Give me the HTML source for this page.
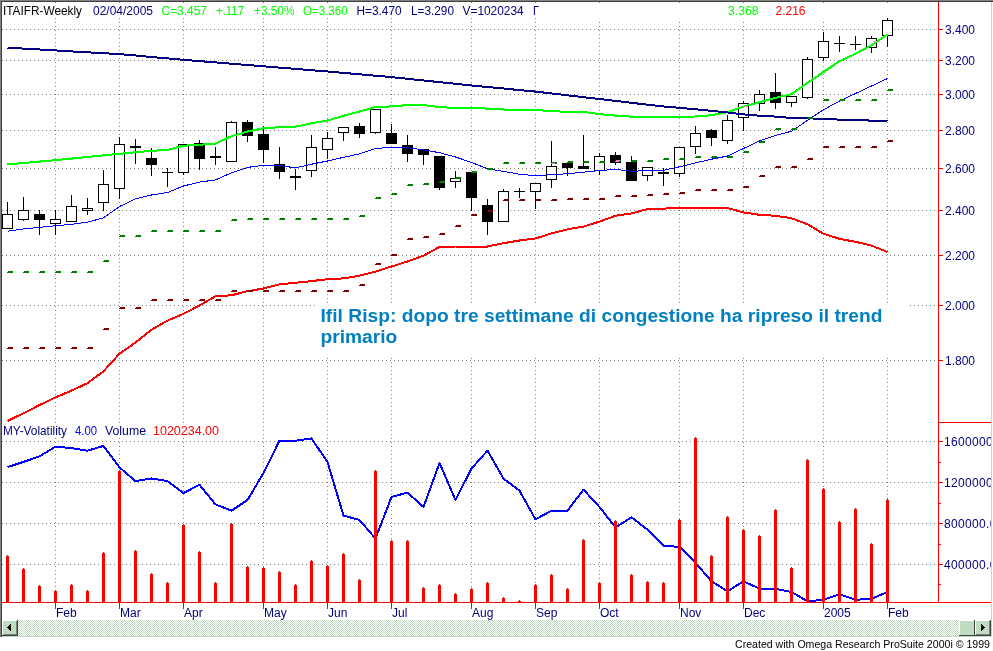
<!DOCTYPE html>
<html><head><meta charset="utf-8"><title>ITAIFR-Weekly</title>
<style>html,body{margin:0;padding:0;background:#fff;overflow:hidden}body{width:993px;height:651px;position:relative;font-family:"Liberation Sans",Arial,sans-serif}</style>
</head><body>
<svg width="993" height="651" viewBox="0 0 993 651" style="display:block;position:absolute;left:0;top:0">
<defs><pattern id="hatch" width="2" height="2" patternUnits="userSpaceOnUse"><rect width="2" height="2" fill="#ffffff"/><rect width="1" height="1" fill="#c0dcc0"/><rect x="1" y="1" width="1" height="1" fill="#c0dcc0"/></pattern>
<clipPath id="clipR"><rect x="0" y="0" width="991" height="651"/></clipPath></defs>
<rect width="993" height="651" fill="#fff"/>
<g stroke="#808080" stroke-width="1" stroke-dasharray="1 3" shape-rendering="crispEdges" fill="none">
<line x1="55.5" y1="2" x2="55.5" y2="603"/>
<line x1="119.5" y1="2" x2="119.5" y2="603"/>
<line x1="183.5" y1="2" x2="183.5" y2="603"/>
<line x1="263.5" y1="2" x2="263.5" y2="603"/>
<line x1="327.5" y1="2" x2="327.5" y2="603"/>
<line x1="391.5" y1="2" x2="391.5" y2="603"/>
<line x1="471.5" y1="2" x2="471.5" y2="603"/>
<line x1="535.5" y1="2" x2="535.5" y2="603"/>
<line x1="599.5" y1="2" x2="599.5" y2="603"/>
<line x1="679.5" y1="2" x2="679.5" y2="603"/>
<line x1="743.5" y1="2" x2="743.5" y2="603"/>
<line x1="823.5" y1="2" x2="823.5" y2="603"/>
<line x1="887.5" y1="2" x2="887.5" y2="603"/>
<line x1="2" y1="29.5" x2="938" y2="29.5"/>
<line x1="2" y1="60.5" x2="938" y2="60.5"/>
<line x1="2" y1="94.5" x2="938" y2="94.5"/>
<line x1="2" y1="130.5" x2="938" y2="130.5"/>
<line x1="2" y1="168.5" x2="938" y2="168.5"/>
<line x1="2" y1="210.5" x2="938" y2="210.5"/>
<line x1="2" y1="255.5" x2="938" y2="255.5"/>
<line x1="2" y1="305.5" x2="938" y2="305.5"/>
<line x1="2" y1="360.5" x2="938" y2="360.5"/>
<line x1="2" y1="441.5" x2="938" y2="441.5"/>
<line x1="2" y1="482.5" x2="938" y2="482.5"/>
<line x1="2" y1="523.5" x2="938" y2="523.5"/>
<line x1="2" y1="564.5" x2="938" y2="564.5"/>
</g>
<rect x="3" y="3" width="542" height="15" fill="#fff"/>
<rect x="545" y="3" width="392" height="18" fill="#fff"/>
<rect x="318" y="303" width="592" height="55" fill="#fff"/>
<rect x="3" y="424" width="220" height="14" fill="#fff"/>
<g shape-rendering="crispEdges" fill="#000">
<rect x="7" y="202" width="1" height="27"/>
<rect x="2" y="214" width="11" height="15"/><rect x="3" y="215" width="9" height="13" fill="#fff"/>
<rect x="23" y="197" width="1" height="24"/>
<rect x="18" y="210" width="11" height="10"/><rect x="19" y="211" width="9" height="8" fill="#fff"/>
<rect x="39" y="210" width="1" height="25"/>
<rect x="34" y="214" width="11" height="6"/>
<rect x="55" y="210" width="1" height="25"/>
<rect x="50" y="219" width="11" height="5"/><rect x="51" y="220" width="9" height="3" fill="#fff"/>
<rect x="71" y="195" width="1" height="27"/>
<rect x="66" y="206" width="11" height="16"/><rect x="67" y="207" width="9" height="14" fill="#fff"/>
<rect x="87" y="198" width="1" height="17"/>
<rect x="82" y="208" width="11" height="3"/><rect x="83" y="209" width="9" height="1" fill="#fff"/>
<rect x="103" y="170" width="1" height="41"/>
<rect x="98" y="184" width="11" height="19"/><rect x="99" y="185" width="9" height="17" fill="#fff"/>
<rect x="119" y="137" width="1" height="62"/>
<rect x="114" y="144" width="11" height="45"/><rect x="115" y="145" width="9" height="43" fill="#fff"/>
<rect x="135" y="139" width="1" height="25"/>
<rect x="130" y="146" width="11" height="2"/>
<rect x="151" y="148" width="1" height="28"/>
<rect x="146" y="158" width="11" height="7"/>
<rect x="167" y="168" width="1" height="19"/>
<rect x="162" y="172" width="11" height="1"/>
<rect x="183" y="144" width="1" height="31"/>
<rect x="178" y="144" width="11" height="29"/><rect x="179" y="145" width="9" height="27" fill="#fff"/>
<rect x="199" y="140" width="1" height="30"/>
<rect x="194" y="143" width="11" height="16"/>
<rect x="215" y="147" width="1" height="18"/>
<rect x="210" y="156" width="11" height="2"/>
<rect x="231" y="121" width="1" height="41"/>
<rect x="226" y="122" width="11" height="40"/><rect x="227" y="123" width="9" height="38" fill="#fff"/>
<rect x="247" y="120" width="1" height="22"/>
<rect x="242" y="122" width="11" height="14"/>
<rect x="263" y="126" width="1" height="37"/>
<rect x="258" y="134" width="11" height="16"/>
<rect x="279" y="147" width="1" height="32"/>
<rect x="274" y="164" width="11" height="8"/>
<rect x="295" y="169" width="1" height="21"/>
<rect x="290" y="176" width="11" height="2"/>
<rect x="311" y="135" width="1" height="42"/>
<rect x="306" y="147" width="11" height="24"/><rect x="307" y="148" width="9" height="22" fill="#fff"/>
<rect x="327" y="132" width="1" height="27"/>
<rect x="322" y="138" width="11" height="12"/><rect x="323" y="139" width="9" height="10" fill="#fff"/>
<rect x="343" y="127" width="1" height="14"/>
<rect x="338" y="127" width="11" height="6"/><rect x="339" y="128" width="9" height="4" fill="#fff"/>
<rect x="359" y="123" width="1" height="15"/>
<rect x="354" y="126" width="11" height="8"/>
<rect x="375" y="109" width="1" height="25"/>
<rect x="370" y="109" width="11" height="24"/><rect x="371" y="110" width="9" height="22" fill="#fff"/>
<rect x="391" y="124" width="1" height="20"/>
<rect x="386" y="133" width="11" height="11"/>
<rect x="407" y="135" width="1" height="27"/>
<rect x="402" y="145" width="11" height="9"/>
<rect x="423" y="149" width="1" height="16"/>
<rect x="418" y="149" width="11" height="6"/>
<rect x="439" y="156" width="1" height="34"/>
<rect x="434" y="156" width="11" height="32"/>
<rect x="455" y="171" width="1" height="17"/>
<rect x="450" y="178" width="11" height="4"/><rect x="451" y="179" width="9" height="2" fill="#fff"/>
<rect x="471" y="172" width="1" height="39"/>
<rect x="466" y="172" width="11" height="26"/>
<rect x="487" y="199" width="1" height="36"/>
<rect x="482" y="205" width="11" height="17"/>
<rect x="503" y="189" width="1" height="33"/>
<rect x="498" y="191" width="11" height="31"/><rect x="499" y="192" width="9" height="29" fill="#fff"/>
<rect x="519" y="188" width="1" height="10"/>
<rect x="514" y="191" width="11" height="1"/>
<rect x="535" y="183" width="1" height="26"/>
<rect x="530" y="183" width="11" height="9"/><rect x="531" y="184" width="9" height="7" fill="#fff"/>
<rect x="551" y="141" width="1" height="47"/>
<rect x="546" y="166" width="11" height="14"/><rect x="547" y="167" width="9" height="12" fill="#fff"/>
<rect x="567" y="163" width="1" height="13"/>
<rect x="562" y="163" width="11" height="5"/>
<rect x="583" y="135" width="1" height="34"/>
<rect x="578" y="166" width="11" height="3"/>
<rect x="599" y="153" width="1" height="22"/>
<rect x="594" y="156" width="11" height="15"/><rect x="595" y="157" width="9" height="13" fill="#fff"/>
<rect x="615" y="152" width="1" height="13"/>
<rect x="610" y="155" width="11" height="8"/>
<rect x="631" y="156" width="1" height="25"/>
<rect x="626" y="162" width="11" height="19"/>
<rect x="647" y="167" width="1" height="14"/>
<rect x="642" y="167" width="11" height="9"/><rect x="643" y="168" width="9" height="7" fill="#fff"/>
<rect x="663" y="168" width="1" height="18"/>
<rect x="658" y="172" width="11" height="2"/>
<rect x="679" y="147" width="1" height="30"/>
<rect x="674" y="147" width="11" height="27"/><rect x="675" y="148" width="9" height="25" fill="#fff"/>
<rect x="695" y="126" width="1" height="28"/>
<rect x="690" y="133" width="11" height="14"/><rect x="691" y="134" width="9" height="12" fill="#fff"/>
<rect x="711" y="129" width="1" height="17"/>
<rect x="706" y="130" width="11" height="8"/>
<rect x="727" y="115" width="1" height="29"/>
<rect x="722" y="120" width="11" height="21"/><rect x="723" y="121" width="9" height="19" fill="#fff"/>
<rect x="743" y="101" width="1" height="30"/>
<rect x="738" y="103" width="11" height="15"/><rect x="739" y="104" width="9" height="13" fill="#fff"/>
<rect x="759" y="90" width="1" height="21"/>
<rect x="754" y="94" width="11" height="10"/><rect x="755" y="95" width="9" height="8" fill="#fff"/>
<rect x="775" y="73" width="1" height="36"/>
<rect x="770" y="92" width="11" height="11"/>
<rect x="791" y="96" width="1" height="11"/>
<rect x="786" y="96" width="11" height="7"/><rect x="787" y="97" width="9" height="5" fill="#fff"/>
<rect x="807" y="57" width="1" height="42"/>
<rect x="802" y="59" width="11" height="39"/><rect x="803" y="60" width="9" height="37" fill="#fff"/>
<rect x="823" y="32" width="1" height="29"/>
<rect x="818" y="41" width="11" height="17"/><rect x="819" y="42" width="9" height="15" fill="#fff"/>
<rect x="839" y="36" width="1" height="16"/>
<rect x="834" y="43" width="11" height="1"/>
<rect x="855" y="36" width="1" height="14"/>
<rect x="850" y="44" width="11" height="1"/>
<rect x="871" y="36" width="1" height="17"/>
<rect x="866" y="38" width="11" height="10"/><rect x="867" y="39" width="9" height="8" fill="#fff"/>
<rect x="887" y="18" width="1" height="29"/>
<rect x="882" y="20" width="11" height="16"/><rect x="883" y="21" width="9" height="14" fill="#fff"/>
</g>
<polyline points="7.5,467.1 23.5,461.9 39.5,456.3 55.5,446.7 71.5,448.1 87.5,450.7 103.5,445.9 119.5,467.4 135.5,481.1 151.5,478.5 167.5,481.1 183.5,493.0 199.5,484.8 215.5,504.4 231.5,510.7 247.5,500.0 263.5,473.0 279.5,440.7 295.5,440.7 311.5,438.5 327.5,461.9 343.5,515.6 359.5,520.0 375.5,538.5 391.5,497.0 407.5,492.6 423.5,507.0 439.5,463.0 455.5,500.0 471.5,468.5 487.5,450.7 503.5,478.5 519.5,490.7 535.5,519.3 551.5,510.7 567.5,510.7 583.5,489.6 599.5,507.0 615.5,527.4 631.5,517.4 647.5,529.6 663.5,545.8 679.5,546.9 695.5,562.8 711.5,581.3 727.5,591.3 743.5,581.3 759.5,588.7 775.5,588.7 791.5,592.0 807.5,601.3 823.5,599.8 839.5,594.2 855.5,599.8 871.5,598.7 887.5,592.0" fill="none" stroke="#0000ff" stroke-width="2" stroke-linejoin="round" shape-rendering="crispEdges" />
<g fill="#ff0000" shape-rendering="crispEdges">
<rect x="6" y="556" width="3" height="47"/><rect x="7" y="555" width="1" height="1"/>
<rect x="22" y="569" width="3" height="34"/><rect x="23" y="568" width="1" height="1"/>
<rect x="38" y="586" width="3" height="17"/><rect x="39" y="585" width="1" height="1"/>
<rect x="54" y="591" width="3" height="12"/><rect x="55" y="590" width="1" height="1"/>
<rect x="70" y="585" width="3" height="18"/><rect x="71" y="584" width="1" height="1"/>
<rect x="86" y="591" width="3" height="12"/><rect x="87" y="590" width="1" height="1"/>
<rect x="102" y="553" width="3" height="50"/><rect x="103" y="552" width="1" height="1"/>
<rect x="118" y="471" width="3" height="132"/><rect x="119" y="470" width="1" height="1"/>
<rect x="134" y="551" width="3" height="52"/><rect x="135" y="550" width="1" height="1"/>
<rect x="150" y="574" width="3" height="29"/><rect x="151" y="573" width="1" height="1"/>
<rect x="166" y="583" width="3" height="20"/><rect x="167" y="582" width="1" height="1"/>
<rect x="182" y="525" width="3" height="78"/><rect x="183" y="524" width="1" height="1"/>
<rect x="198" y="552" width="3" height="51"/><rect x="199" y="551" width="1" height="1"/>
<rect x="214" y="583" width="3" height="20"/><rect x="215" y="582" width="1" height="1"/>
<rect x="230" y="524" width="3" height="79"/><rect x="231" y="523" width="1" height="1"/>
<rect x="246" y="567" width="3" height="36"/><rect x="247" y="566" width="1" height="1"/>
<rect x="262" y="568" width="3" height="35"/><rect x="263" y="567" width="1" height="1"/>
<rect x="278" y="572" width="3" height="31"/><rect x="279" y="571" width="1" height="1"/>
<rect x="294" y="585" width="3" height="18"/><rect x="295" y="584" width="1" height="1"/>
<rect x="310" y="561" width="3" height="42"/><rect x="311" y="560" width="1" height="1"/>
<rect x="326" y="566" width="3" height="37"/><rect x="327" y="565" width="1" height="1"/>
<rect x="342" y="554" width="3" height="49"/><rect x="343" y="553" width="1" height="1"/>
<rect x="358" y="580" width="3" height="23"/><rect x="359" y="579" width="1" height="1"/>
<rect x="374" y="471" width="3" height="132"/><rect x="375" y="470" width="1" height="1"/>
<rect x="390" y="541" width="3" height="62"/><rect x="391" y="540" width="1" height="1"/>
<rect x="406" y="541" width="3" height="62"/><rect x="407" y="540" width="1" height="1"/>
<rect x="422" y="588" width="3" height="15"/><rect x="423" y="587" width="1" height="1"/>
<rect x="438" y="585" width="3" height="18"/><rect x="439" y="584" width="1" height="1"/>
<rect x="454" y="594" width="3" height="9"/><rect x="455" y="593" width="1" height="1"/>
<rect x="470" y="589" width="3" height="14"/><rect x="471" y="588" width="1" height="1"/>
<rect x="486" y="583" width="3" height="20"/><rect x="487" y="582" width="1" height="1"/>
<rect x="502" y="598" width="3" height="5"/><rect x="503" y="597" width="1" height="1"/>
<rect x="518" y="601" width="3" height="2"/><rect x="519" y="600" width="1" height="1"/>
<rect x="534" y="585" width="3" height="18"/><rect x="535" y="584" width="1" height="1"/>
<rect x="550" y="575" width="3" height="28"/><rect x="551" y="574" width="1" height="1"/>
<rect x="566" y="589" width="3" height="14"/><rect x="567" y="588" width="1" height="1"/>
<rect x="582" y="540" width="3" height="63"/><rect x="583" y="539" width="1" height="1"/>
<rect x="598" y="583" width="3" height="20"/><rect x="599" y="582" width="1" height="1"/>
<rect x="614" y="521" width="3" height="82"/><rect x="615" y="520" width="1" height="1"/>
<rect x="630" y="575" width="3" height="28"/><rect x="631" y="574" width="1" height="1"/>
<rect x="646" y="582" width="3" height="21"/><rect x="647" y="581" width="1" height="1"/>
<rect x="662" y="583" width="3" height="20"/><rect x="663" y="582" width="1" height="1"/>
<rect x="678" y="520" width="3" height="83"/><rect x="679" y="519" width="1" height="1"/>
<rect x="694" y="438" width="3" height="165"/><rect x="695" y="437" width="1" height="1"/>
<rect x="710" y="556" width="3" height="47"/><rect x="711" y="555" width="1" height="1"/>
<rect x="726" y="517" width="3" height="86"/><rect x="727" y="516" width="1" height="1"/>
<rect x="742" y="530" width="3" height="73"/><rect x="743" y="529" width="1" height="1"/>
<rect x="758" y="536" width="3" height="67"/><rect x="759" y="535" width="1" height="1"/>
<rect x="774" y="510" width="3" height="93"/><rect x="775" y="509" width="1" height="1"/>
<rect x="790" y="568" width="3" height="35"/><rect x="791" y="567" width="1" height="1"/>
<rect x="806" y="460" width="3" height="143"/><rect x="807" y="459" width="1" height="1"/>
<rect x="822" y="489" width="3" height="114"/><rect x="823" y="488" width="1" height="1"/>
<rect x="838" y="522" width="3" height="81"/><rect x="839" y="521" width="1" height="1"/>
<rect x="854" y="509" width="3" height="94"/><rect x="855" y="508" width="1" height="1"/>
<rect x="870" y="544" width="3" height="59"/><rect x="871" y="543" width="1" height="1"/>
<rect x="886" y="500" width="3" height="103"/><rect x="887" y="499" width="1" height="1"/>
</g>
<polyline points="7.5,421.0 23.5,413.2 39.5,405.1 55.5,397.4 71.5,390.6 87.5,383.2 103.5,371.3 119.5,353.7 135.5,342.6 151.5,329.7 167.5,320.6 183.5,313.9 199.5,305.4 215.5,296.3 231.5,295.3 247.5,291.2 263.5,288.5 279.5,284.4 295.5,282.8 311.5,281.1 327.5,279.2 343.5,278.4 359.5,275.7 375.5,271.6 391.5,266.5 407.5,261.5 423.5,255.7 439.5,247.0 455.5,246.5 471.5,246.5 487.5,246.5 503.5,243.2 519.5,240.5 535.5,238.5 551.5,233.4 567.5,229.3 583.5,226.6 599.5,221.6 615.5,215.8 631.5,213.4 647.5,209.1 663.5,208.6 679.5,208.0 695.5,208.0 711.5,208.0 727.5,208.0 743.5,212.4 759.5,214.8 775.5,215.8 791.5,218.2 807.5,224.3 823.5,233.7 839.5,238.8 855.5,241.8 871.5,245.6 887.5,252.0" fill="none" stroke="#ff0000" stroke-width="2" stroke-linejoin="round" shape-rendering="crispEdges" />
<polyline points="7.5,164.5 23.5,163.0 39.5,161.6 55.5,160.2 71.5,158.6 87.5,157.0 103.5,155.4 119.5,153.8 135.5,152.3 151.5,150.8 167.5,149.9 183.5,145.7 199.5,144.8 215.5,143.6 231.5,136.2 247.5,131.5 263.5,128.3 279.5,127.2 295.5,126.6 311.5,123.3 327.5,120.5 343.5,115.8 359.5,111.5 375.5,107.2 391.5,106.4 407.5,105.1 423.5,105.1 439.5,107.1 455.5,108.0 471.5,108.0 487.5,108.6 503.5,109.5 519.5,109.9 535.5,109.9 551.5,111.2 567.5,111.8 583.5,111.9 599.5,114.1 615.5,115.6 631.5,116.7 647.5,116.7 663.5,116.7 679.5,116.7 695.5,116.5 711.5,115.2 727.5,112.2 743.5,106.6 759.5,102.2 775.5,97.8 791.5,94.2 807.5,82.8 823.5,72.0 839.5,61.3 855.5,53.8 871.5,45.2 887.5,34.4" fill="none" stroke="#00ff00" stroke-width="2" stroke-linejoin="round" shape-rendering="crispEdges" />
<polyline points="7.5,47.7 23.5,48.6 39.5,49.5 55.5,50.4 71.5,51.4 87.5,52.3 103.5,53.2 119.5,54.1 135.5,55.5 151.5,57.0 167.5,58.4 183.5,59.8 199.5,61.1 215.5,62.4 231.5,63.7 247.5,65.0 263.5,66.3 279.5,67.6 295.5,68.9 311.5,70.2 327.5,71.5 343.5,72.9 359.5,74.3 375.5,75.7 391.5,77.1 407.5,78.8 423.5,80.5 439.5,82.1 455.5,83.8 471.5,85.5 487.5,87.0 503.5,88.5 519.5,90.1 535.5,91.6 551.5,93.4 567.5,95.3 583.5,97.2 599.5,99.0 615.5,100.9 631.5,102.8 647.5,104.7 663.5,106.5 679.5,107.8 695.5,109.3 711.5,110.9 727.5,112.4 743.5,114.4 759.5,115.7 775.5,116.6 791.5,118.0 807.5,118.3 823.5,118.9 839.5,119.6 855.5,120.1 871.5,120.6 887.5,121.1" fill="none" stroke="#000080" stroke-width="2" stroke-linejoin="round" shape-rendering="crispEdges" />
<polyline points="7.5,231.2 23.5,229.0 39.5,227.3 55.5,225.8 71.5,224.3 87.5,222.2 103.5,217.8 119.5,206.5 135.5,198.9 151.5,195.0 167.5,192.5 183.5,186.0 199.5,182.1 215.5,179.9 231.5,172.8 247.5,167.4 263.5,165.3 279.5,165.5 295.5,167.9 311.5,164.2 327.5,161.0 343.5,157.3 359.5,153.9 375.5,148.5 391.5,147.3 407.5,147.7 423.5,149.9 439.5,152.7 455.5,157.0 471.5,162.4 487.5,168.8 503.5,171.4 519.5,174.2 535.5,175.7 551.5,174.6 567.5,173.8 583.5,172.2 599.5,170.6 615.5,169.3 631.5,171.3 647.5,170.6 663.5,170.3 679.5,166.8 695.5,162.9 711.5,159.2 727.5,156.0 743.5,148.5 759.5,141.0 775.5,135.5 791.5,131.2 807.5,120.4 823.5,109.7 839.5,101.1 855.5,93.5 871.5,86.0 887.5,78.5" fill="none" stroke="#0000ff" stroke-width="1" stroke-linejoin="round" shape-rendering="crispEdges" />
<path d="M7 272h6v1h-6zM8 271h5v1h-5z" fill="#008000" shape-rendering="crispEdges"/>
<path d="M23 272h6v1h-6zM24 271h5v1h-5z" fill="#008000" shape-rendering="crispEdges"/>
<path d="M39 272h6v1h-6zM40 271h5v1h-5z" fill="#008000" shape-rendering="crispEdges"/>
<path d="M55 272h6v1h-6zM56 271h5v1h-5z" fill="#008000" shape-rendering="crispEdges"/>
<path d="M71 272h6v1h-6zM72 271h5v1h-5z" fill="#008000" shape-rendering="crispEdges"/>
<path d="M87 272h6v1h-6zM88 271h5v1h-5z" fill="#008000" shape-rendering="crispEdges"/>
<path d="M103 261h6v1h-6zM104 260h5v1h-5z" fill="#008000" shape-rendering="crispEdges"/>
<path d="M119 236h6v1h-6zM120 235h5v1h-5z" fill="#008000" shape-rendering="crispEdges"/>
<path d="M135 236h6v1h-6zM136 235h5v1h-5z" fill="#008000" shape-rendering="crispEdges"/>
<path d="M151 231h6v1h-6zM152 230h5v1h-5z" fill="#008000" shape-rendering="crispEdges"/>
<path d="M167 231h6v1h-6zM168 230h5v1h-5z" fill="#008000" shape-rendering="crispEdges"/>
<path d="M183 231h6v1h-6zM184 230h5v1h-5z" fill="#008000" shape-rendering="crispEdges"/>
<path d="M199 231h6v1h-6zM200 230h5v1h-5z" fill="#008000" shape-rendering="crispEdges"/>
<path d="M215 231h6v1h-6zM216 230h5v1h-5z" fill="#008000" shape-rendering="crispEdges"/>
<path d="M231 220h6v1h-6zM232 219h5v1h-5z" fill="#008000" shape-rendering="crispEdges"/>
<path d="M247 219h6v1h-6zM248 218h5v1h-5z" fill="#008000" shape-rendering="crispEdges"/>
<path d="M263 219h6v1h-6zM264 218h5v1h-5z" fill="#008000" shape-rendering="crispEdges"/>
<path d="M279 219h6v1h-6zM280 218h5v1h-5z" fill="#008000" shape-rendering="crispEdges"/>
<path d="M295 219h6v1h-6zM296 218h5v1h-5z" fill="#008000" shape-rendering="crispEdges"/>
<path d="M311 219h6v1h-6zM312 218h5v1h-5z" fill="#008000" shape-rendering="crispEdges"/>
<path d="M327 219h6v1h-6zM328 218h5v1h-5z" fill="#008000" shape-rendering="crispEdges"/>
<path d="M343 219h6v1h-6zM344 218h5v1h-5z" fill="#008000" shape-rendering="crispEdges"/>
<path d="M359 216h6v1h-6zM360 215h5v1h-5z" fill="#008000" shape-rendering="crispEdges"/>
<path d="M375 198h6v1h-6zM376 197h5v1h-5z" fill="#008000" shape-rendering="crispEdges"/>
<path d="M391 194h6v1h-6zM392 193h5v1h-5z" fill="#008000" shape-rendering="crispEdges"/>
<path d="M407 185h6v1h-6zM408 184h5v1h-5z" fill="#008000" shape-rendering="crispEdges"/>
<path d="M423 184h6v1h-6zM424 183h5v1h-5z" fill="#008000" shape-rendering="crispEdges"/>
<path d="M439 182h6v1h-6zM440 181h5v1h-5z" fill="#008000" shape-rendering="crispEdges"/>
<path d="M455 178h6v1h-6zM456 177h5v1h-5z" fill="#008000" shape-rendering="crispEdges"/>
<path d="M471 172h6v1h-6zM472 171h5v1h-5z" fill="#008000" shape-rendering="crispEdges"/>
<path d="M487 169h6v1h-6zM488 168h5v1h-5z" fill="#008000" shape-rendering="crispEdges"/>
<path d="M503 163h6v1h-6zM504 162h5v1h-5z" fill="#008000" shape-rendering="crispEdges"/>
<path d="M519 163h6v1h-6zM520 162h5v1h-5z" fill="#008000" shape-rendering="crispEdges"/>
<path d="M535 163h6v1h-6zM536 162h5v1h-5z" fill="#008000" shape-rendering="crispEdges"/>
<path d="M551 163h6v1h-6zM552 162h5v1h-5z" fill="#008000" shape-rendering="crispEdges"/>
<path d="M567 162h6v1h-6zM568 161h5v1h-5z" fill="#008000" shape-rendering="crispEdges"/>
<path d="M583 162h6v1h-6zM584 161h5v1h-5z" fill="#008000" shape-rendering="crispEdges"/>
<path d="M599 162h6v1h-6zM600 161h5v1h-5z" fill="#008000" shape-rendering="crispEdges"/>
<path d="M615 161h6v1h-6zM616 160h5v1h-5z" fill="#008000" shape-rendering="crispEdges"/>
<path d="M631 161h6v1h-6zM632 160h5v1h-5z" fill="#008000" shape-rendering="crispEdges"/>
<path d="M647 161h6v1h-6zM648 160h5v1h-5z" fill="#008000" shape-rendering="crispEdges"/>
<path d="M663 159h6v1h-6zM664 158h5v1h-5z" fill="#008000" shape-rendering="crispEdges"/>
<path d="M679 159h6v1h-6zM680 158h5v1h-5z" fill="#008000" shape-rendering="crispEdges"/>
<path d="M695 157h6v1h-6zM696 156h5v1h-5z" fill="#008000" shape-rendering="crispEdges"/>
<path d="M711 157h6v1h-6zM712 156h5v1h-5z" fill="#008000" shape-rendering="crispEdges"/>
<path d="M727 157h6v1h-6zM728 156h5v1h-5z" fill="#008000" shape-rendering="crispEdges"/>
<path d="M743 152h6v1h-6zM744 151h5v1h-5z" fill="#008000" shape-rendering="crispEdges"/>
<path d="M759 142h6v1h-6zM760 141h5v1h-5z" fill="#008000" shape-rendering="crispEdges"/>
<path d="M775 129h6v1h-6zM776 128h5v1h-5z" fill="#008000" shape-rendering="crispEdges"/>
<path d="M791 129h6v1h-6zM792 128h5v1h-5z" fill="#008000" shape-rendering="crispEdges"/>
<path d="M807 118h6v1h-6zM808 117h5v1h-5z" fill="#008000" shape-rendering="crispEdges"/>
<path d="M823 100h6v1h-6zM824 99h5v1h-5z" fill="#008000" shape-rendering="crispEdges"/>
<path d="M839 100h6v1h-6zM840 99h5v1h-5z" fill="#008000" shape-rendering="crispEdges"/>
<path d="M855 100h6v1h-6zM856 99h5v1h-5z" fill="#008000" shape-rendering="crispEdges"/>
<path d="M871 100h6v1h-6zM872 99h5v1h-5z" fill="#008000" shape-rendering="crispEdges"/>
<path d="M887 90h6v1h-6zM888 89h5v1h-5z" fill="#008000" shape-rendering="crispEdges"/>
<path d="M7 348h6v1h-6zM8 347h5v1h-5z" fill="#800000" shape-rendering="crispEdges"/>
<path d="M23 348h6v1h-6zM24 347h5v1h-5z" fill="#800000" shape-rendering="crispEdges"/>
<path d="M39 348h6v1h-6zM40 347h5v1h-5z" fill="#800000" shape-rendering="crispEdges"/>
<path d="M55 348h6v1h-6zM56 347h5v1h-5z" fill="#800000" shape-rendering="crispEdges"/>
<path d="M71 348h6v1h-6zM72 347h5v1h-5z" fill="#800000" shape-rendering="crispEdges"/>
<path d="M87 348h6v1h-6zM88 347h5v1h-5z" fill="#800000" shape-rendering="crispEdges"/>
<path d="M103 329h6v1h-6zM104 328h5v1h-5z" fill="#800000" shape-rendering="crispEdges"/>
<path d="M119 308h6v1h-6zM120 307h5v1h-5z" fill="#800000" shape-rendering="crispEdges"/>
<path d="M135 308h6v1h-6zM136 307h5v1h-5z" fill="#800000" shape-rendering="crispEdges"/>
<path d="M151 300h6v1h-6zM152 299h5v1h-5z" fill="#800000" shape-rendering="crispEdges"/>
<path d="M167 300h6v1h-6zM168 299h5v1h-5z" fill="#800000" shape-rendering="crispEdges"/>
<path d="M183 300h6v1h-6zM184 299h5v1h-5z" fill="#800000" shape-rendering="crispEdges"/>
<path d="M199 300h6v1h-6zM200 299h5v1h-5z" fill="#800000" shape-rendering="crispEdges"/>
<path d="M215 300h6v1h-6zM216 299h5v1h-5z" fill="#800000" shape-rendering="crispEdges"/>
<path d="M231 291h6v1h-6zM232 290h5v1h-5z" fill="#800000" shape-rendering="crispEdges"/>
<path d="M247 291h6v1h-6zM248 290h5v1h-5z" fill="#800000" shape-rendering="crispEdges"/>
<path d="M263 291h6v1h-6zM264 290h5v1h-5z" fill="#800000" shape-rendering="crispEdges"/>
<path d="M279 291h6v1h-6zM280 290h5v1h-5z" fill="#800000" shape-rendering="crispEdges"/>
<path d="M295 291h6v1h-6zM296 290h5v1h-5z" fill="#800000" shape-rendering="crispEdges"/>
<path d="M311 291h6v1h-6zM312 290h5v1h-5z" fill="#800000" shape-rendering="crispEdges"/>
<path d="M327 291h6v1h-6zM328 290h5v1h-5z" fill="#800000" shape-rendering="crispEdges"/>
<path d="M343 291h6v1h-6zM344 290h5v1h-5z" fill="#800000" shape-rendering="crispEdges"/>
<path d="M359 285h6v1h-6zM360 284h5v1h-5z" fill="#800000" shape-rendering="crispEdges"/>
<path d="M375 264h6v1h-6zM376 263h5v1h-5z" fill="#800000" shape-rendering="crispEdges"/>
<path d="M391 255h6v1h-6zM392 254h5v1h-5z" fill="#800000" shape-rendering="crispEdges"/>
<path d="M407 239h6v1h-6zM408 238h5v1h-5z" fill="#800000" shape-rendering="crispEdges"/>
<path d="M423 237h6v1h-6zM424 236h5v1h-5z" fill="#800000" shape-rendering="crispEdges"/>
<path d="M439 234h6v1h-6zM440 233h5v1h-5z" fill="#800000" shape-rendering="crispEdges"/>
<path d="M455 226h6v1h-6zM456 225h5v1h-5z" fill="#800000" shape-rendering="crispEdges"/>
<path d="M471 215h6v1h-6zM472 214h5v1h-5z" fill="#800000" shape-rendering="crispEdges"/>
<path d="M487 211h6v1h-6zM488 210h5v1h-5z" fill="#800000" shape-rendering="crispEdges"/>
<path d="M503 200h6v1h-6zM504 199h5v1h-5z" fill="#800000" shape-rendering="crispEdges"/>
<path d="M519 200h6v1h-6zM520 199h5v1h-5z" fill="#800000" shape-rendering="crispEdges"/>
<path d="M535 200h6v1h-6zM536 199h5v1h-5z" fill="#800000" shape-rendering="crispEdges"/>
<path d="M551 200h6v1h-6zM552 199h5v1h-5z" fill="#800000" shape-rendering="crispEdges"/>
<path d="M567 199h6v1h-6zM568 198h5v1h-5z" fill="#800000" shape-rendering="crispEdges"/>
<path d="M583 199h6v1h-6zM584 198h5v1h-5z" fill="#800000" shape-rendering="crispEdges"/>
<path d="M599 199h6v1h-6zM600 198h5v1h-5z" fill="#800000" shape-rendering="crispEdges"/>
<path d="M615 196h6v1h-6zM616 195h5v1h-5z" fill="#800000" shape-rendering="crispEdges"/>
<path d="M631 196h6v1h-6zM632 195h5v1h-5z" fill="#800000" shape-rendering="crispEdges"/>
<path d="M647 195h6v1h-6zM648 194h5v1h-5z" fill="#800000" shape-rendering="crispEdges"/>
<path d="M663 194h6v1h-6zM664 193h5v1h-5z" fill="#800000" shape-rendering="crispEdges"/>
<path d="M679 193h6v1h-6zM680 192h5v1h-5z" fill="#800000" shape-rendering="crispEdges"/>
<path d="M695 190h6v1h-6zM696 189h5v1h-5z" fill="#800000" shape-rendering="crispEdges"/>
<path d="M711 190h6v1h-6zM712 189h5v1h-5z" fill="#800000" shape-rendering="crispEdges"/>
<path d="M727 190h6v1h-6zM728 189h5v1h-5z" fill="#800000" shape-rendering="crispEdges"/>
<path d="M743 187h6v1h-6zM744 186h5v1h-5z" fill="#800000" shape-rendering="crispEdges"/>
<path d="M759 176h6v1h-6zM760 175h5v1h-5z" fill="#800000" shape-rendering="crispEdges"/>
<path d="M775 167h6v1h-6zM776 166h5v1h-5z" fill="#800000" shape-rendering="crispEdges"/>
<path d="M791 167h6v1h-6zM792 166h5v1h-5z" fill="#800000" shape-rendering="crispEdges"/>
<path d="M807 159h6v1h-6zM808 158h5v1h-5z" fill="#800000" shape-rendering="crispEdges"/>
<path d="M823 147h6v1h-6zM824 146h5v1h-5z" fill="#800000" shape-rendering="crispEdges"/>
<path d="M839 147h6v1h-6zM840 146h5v1h-5z" fill="#800000" shape-rendering="crispEdges"/>
<path d="M855 147h6v1h-6zM856 146h5v1h-5z" fill="#800000" shape-rendering="crispEdges"/>
<path d="M871 147h6v1h-6zM872 146h5v1h-5z" fill="#800000" shape-rendering="crispEdges"/>
<path d="M887 141h6v1h-6zM888 140h5v1h-5z" fill="#800000" shape-rendering="crispEdges"/>
<path d="M551 163h4v1h-4z" fill="#ff80d0" shape-rendering="crispEdges"/>
<path d="M615 161h4v1h-4zM616 160h4v1h-4z" fill="#ff80d0" shape-rendering="crispEdges"/>
<path d="M743 106h4v1h-4z" fill="#ff80d0" shape-rendering="crispEdges"/>
<path d="M873 41h4v1h-4z" fill="#ff80d0" shape-rendering="crispEdges"/>
<g shape-rendering="crispEdges">
<rect x="938" y="2" width="1" height="601" fill="#ff0000"/>
<rect x="2" y="602" width="989" height="1" fill="#ff0000"/>
<rect x="938" y="422" width="53" height="1" fill="#ff0000"/>
<rect x="938" y="29" width="5" height="1" fill="#ff0000"/>
<rect x="938" y="60" width="5" height="1" fill="#ff0000"/>
<rect x="938" y="94" width="5" height="1" fill="#ff0000"/>
<rect x="938" y="130" width="5" height="1" fill="#ff0000"/>
<rect x="938" y="168" width="5" height="1" fill="#ff0000"/>
<rect x="938" y="210" width="5" height="1" fill="#ff0000"/>
<rect x="938" y="255" width="5" height="1" fill="#ff0000"/>
<rect x="938" y="305" width="5" height="1" fill="#ff0000"/>
<rect x="938" y="360" width="5" height="1" fill="#ff0000"/>
<rect x="938" y="441" width="5" height="1" fill="#ff0000"/>
<rect x="938" y="482" width="5" height="1" fill="#ff0000"/>
<rect x="938" y="523" width="5" height="1" fill="#ff0000"/>
<rect x="938" y="564" width="5" height="1" fill="#ff0000"/>
<rect x="938" y="462" width="3" height="1" fill="#ff0000"/>
<rect x="938" y="503" width="3" height="1" fill="#ff0000"/>
<rect x="938" y="544" width="3" height="1" fill="#ff0000"/>
<rect x="938" y="584" width="3" height="1" fill="#ff0000"/>
<rect x="55" y="603" width="1" height="6" fill="#ff0000"/>
<rect x="119" y="603" width="1" height="6" fill="#ff0000"/>
<rect x="183" y="603" width="1" height="6" fill="#ff0000"/>
<rect x="263" y="603" width="1" height="6" fill="#ff0000"/>
<rect x="327" y="603" width="1" height="6" fill="#ff0000"/>
<rect x="391" y="603" width="1" height="6" fill="#ff0000"/>
<rect x="471" y="603" width="1" height="6" fill="#ff0000"/>
<rect x="535" y="603" width="1" height="6" fill="#ff0000"/>
<rect x="599" y="603" width="1" height="6" fill="#ff0000"/>
<rect x="679" y="603" width="1" height="6" fill="#ff0000"/>
<rect x="743" y="603" width="1" height="6" fill="#ff0000"/>
<rect x="823" y="603" width="1" height="6" fill="#ff0000"/>
<rect x="887" y="603" width="1" height="6" fill="#ff0000"/>
</g>
<g font-family="'Liberation Sans', Arial, sans-serif" font-size="12" fill="#000080" clip-path="url(#clipR)">
<text x="945" y="34">3.400</text>
<text x="945" y="65">3.200</text>
<text x="945" y="99">3.000</text>
<text x="945" y="135">2.800</text>
<text x="945" y="173">2.600</text>
<text x="945" y="215">2.400</text>
<text x="945" y="260">2.200</text>
<text x="945" y="310">2.000</text>
<text x="945" y="365">1.800</text>
<text x="944" y="446" letter-spacing="0.33">1600000.</text>
<text x="944" y="487" letter-spacing="0.33">1200000.</text>
<text x="944" y="528" letter-spacing="0.33">800000.0</text>
<text x="944" y="569" letter-spacing="0.33">400000.0</text>
<text x="56" y="617">Feb</text>
<text x="120" y="617">Mar</text>
<text x="184" y="617">Apr</text>
<text x="264" y="617">May</text>
<text x="328" y="617">Jun</text>
<text x="392" y="617">Jul</text>
<text x="472" y="617">Aug</text>
<text x="536" y="617">Sep</text>
<text x="600" y="617">Oct</text>
<text x="680" y="617">Nov</text>
<text x="744" y="617">Dec</text>
<text x="824" y="617">2005</text>
<text x="888" y="617">Feb</text>
</g>
<g font-family="'Liberation Sans', Arial, sans-serif" font-size="12">
<text x="3" y="15" fill="#000" textLength="79" lengthAdjust="spacingAndGlyphs">ITAIFR-Weekly</text>
<text x="93" y="15" fill="#000080" textLength="60" lengthAdjust="spacingAndGlyphs">02/04/2005</text>
<text x="161.5" y="15" fill="#00ff00" textLength="45.5" lengthAdjust="spacingAndGlyphs">C=3.457</text>
<text x="216" y="15" fill="#00ff00" textLength="28" lengthAdjust="spacingAndGlyphs">+.117</text>
<text x="254" y="15" fill="#00ff00" textLength="40.5" lengthAdjust="spacingAndGlyphs">+3.50%</text>
<text x="303" y="15" fill="#00ff00" textLength="44.60000000000002" lengthAdjust="spacingAndGlyphs">O=3.360</text>
<text x="356.4" y="15" fill="#000080" textLength="45.30000000000001" lengthAdjust="spacingAndGlyphs">H=3.470</text>
<text x="411" y="15" fill="#000080" textLength="43" lengthAdjust="spacingAndGlyphs">L=3.290</text>
<text x="462.5" y="15" fill="#000080" textLength="61.200000000000045" lengthAdjust="spacingAndGlyphs">V=1020234</text>
<text x="533" y="15" fill="#000080" textLength="6" lengthAdjust="spacingAndGlyphs">Γ</text>
<text x="728" y="15" fill="#00ff00" textLength="30.5" lengthAdjust="spacingAndGlyphs">3.368</text>
<text x="775.5" y="15" fill="#ff0000" textLength="30.0" lengthAdjust="spacingAndGlyphs">2.216</text>
<text x="3" y="435" fill="#000080" textLength="64" lengthAdjust="spacingAndGlyphs">MY-Volatility</text>
<text x="75" y="435" fill="#0000ff" textLength="22" lengthAdjust="spacingAndGlyphs">4.00</text>
<text x="105" y="435" fill="#000080" textLength="41" lengthAdjust="spacingAndGlyphs">Volume</text>
<text x="153" y="435" fill="#ff0000" textLength="66" lengthAdjust="spacingAndGlyphs">1020234.00</text>
</g>
<text x="735" y="648" font-family="'Liberation Sans', Arial, sans-serif" font-size="11" textLength="255" lengthAdjust="spacingAndGlyphs" fill="#000">Created with Omega Research ProSuite 2000i © 1999</text>
<g font-family="'Liberation Sans', Arial, sans-serif" font-size="19.2" font-weight="bold" fill="#0080c0">
<text x="320.5" y="321.7" textLength="562" lengthAdjust="spacing">Ifil Risp: dopo tre settimane di congestione ha ripreso il trend</text>
<text x="320.5" y="342.7">primario</text>
</g>
<g shape-rendering="crispEdges">
<rect x="2" y="620" width="989" height="16" fill="url(#hatch)"/>
<rect x="2" y="620" width="16" height="16" fill="#c0dcc0"/>
<rect x="2" y="620" width="15" height="1" fill="#fff"/><rect x="2" y="620" width="1" height="15" fill="#fff"/>
<rect x="17" y="620" width="1" height="16" fill="#404040"/><rect x="2" y="635" width="16" height="1" fill="#404040"/>
<rect x="16" y="621" width="1" height="14" fill="#808080"/><rect x="3" y="634" width="14" height="1" fill="#808080"/>
<rect x="975" y="620" width="16" height="16" fill="#c0dcc0"/>
<rect x="975" y="620" width="15" height="1" fill="#fff"/><rect x="975" y="620" width="1" height="15" fill="#fff"/>
<rect x="990" y="620" width="1" height="16" fill="#404040"/><rect x="975" y="635" width="16" height="1" fill="#404040"/>
<rect x="989" y="621" width="1" height="14" fill="#808080"/><rect x="976" y="634" width="14" height="1" fill="#808080"/>
<rect x="959" y="620" width="16" height="16" fill="#c0dcc0"/>
<rect x="959" y="620" width="15" height="1" fill="#fff"/><rect x="959" y="620" width="1" height="15" fill="#fff"/>
<rect x="974" y="620" width="1" height="16" fill="#404040"/><rect x="959" y="635" width="16" height="1" fill="#404040"/>
<path d="M7 627h1v1h-1zM8 626h1v3h-1zM9 625h1v5h-1zM10 624h1v7h-1z" fill="#000"/>
<path d="M984 627h1v1h-1zM983 626h1v3h-1zM982 625h1v5h-1zM981 624h1v7h-1z" fill="#000"/>
</g>
<g shape-rendering="crispEdges">
<rect x="0" y="0" width="993" height="1" fill="#808080"/><rect x="0" y="1" width="993" height="1" fill="#404040"/>
<rect x="0" y="0" width="1" height="637" fill="#808080"/><rect x="1" y="1" width="1" height="636" fill="#404040"/>
<rect x="991" y="2" width="1" height="635" fill="#c0dcc0"/><rect x="2" y="636" width="990" height="1" fill="#c0dcc0"/>
</g>
</svg>
</body></html>
